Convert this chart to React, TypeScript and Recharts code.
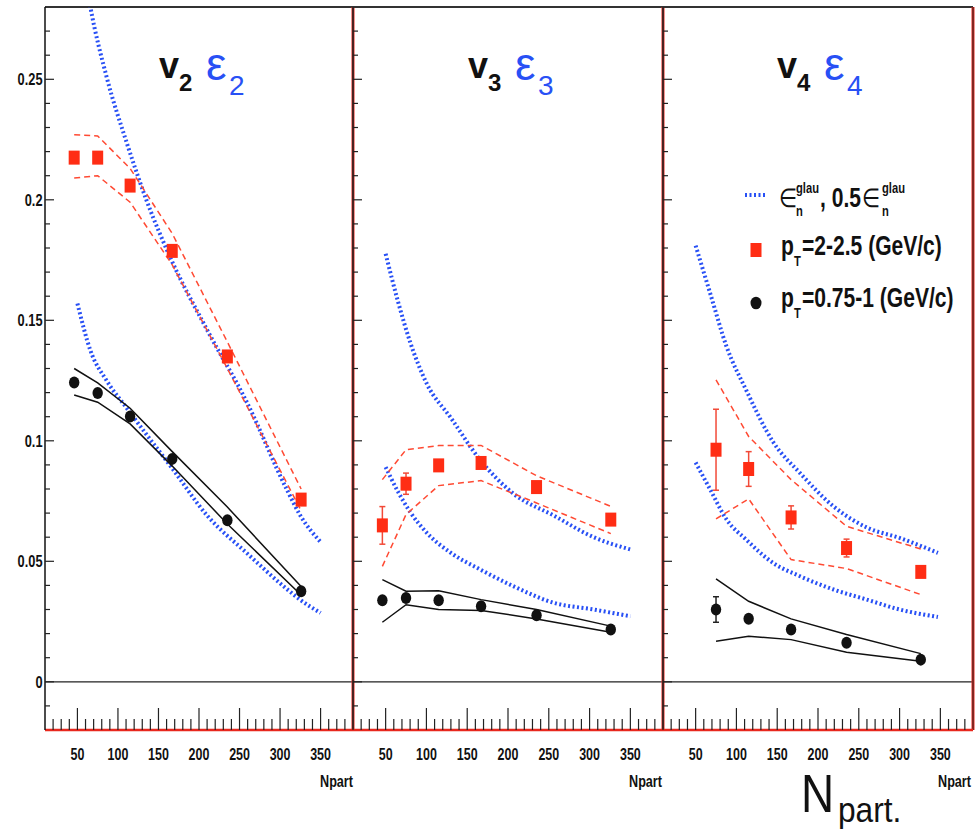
import React from "react";
import { ComposedChart, Line, Scatter, ErrorBar, XAxis, YAxis, ReferenceLine } from "recharts";

const FONT = '"Liberation Sans", Arial, Helvetica, sans-serif';
const RED = "#ff2d14";
const RED_BAND = "#ff4a33";
const BLUE = "#2850f5";
const BLACK = "#111";

// axes
const xTicks = [20, 30, 40, 50, 60, 70, 80, 90, 100, 110, 120, 130, 140, 150, 160, 170, 180, 190, 200, 210, 220, 230, 240, 250, 260, 270, 280, 290, 300, 310, 320, 330, 340, 350, 360, 370, 380];
const xMajor = [50, 100, 150, 200, 250, 300, 350];
const yTicks = [-0.01, 0, 0.01, 0.02, 0.03, 0.04, 0.05, 0.06, 0.07, 0.08, 0.09, 0.1, 0.11, 0.12, 0.13, 0.14, 0.15, 0.16, 0.17, 0.18, 0.19, 0.2, 0.21, 0.22, 0.23, 0.24, 0.25, 0.26, 0.27];
const yMajor = [0, 0.05, 0.1, 0.15, 0.2, 0.25];

// centrality bins (Npart)
const npart6 = [46, 75, 115, 167, 235, 326];
const npart5 = [75, 115, 167, 235, 326];

// v2 panel
const v2High = [0.2175, 0.2175, 0.2059, 0.1788, 0.135, 0.0756];
const v2HighUp = [0.227, 0.2265, 0.213, 0.186, 0.141, 0.08];
const v2HighLo = [0.209, 0.21, 0.199, 0.173, 0.13, 0.071];
const v2Low = [0.1242, 0.1198, 0.1101, 0.0925, 0.067, 0.0376];
const v2LowUp = [0.13, 0.124, 0.1135, 0.0955, 0.0725, 0.0395];
const v2LowLo = [0.119, 0.116, 0.107, 0.0895, 0.0655, 0.036];
const eps2N = [50, 66, 86, 111, 135, 166, 210, 259, 308, 325, 350];
const eps2 = [0.314, 0.28, 0.251, 0.2235, 0.2, 0.175, 0.146, 0.116, 0.08, 0.069, 0.058];
const eps2Half = [0.157, 0.1375, 0.125, 0.1135, 0.1027, 0.089, 0.069, 0.0534, 0.0386, 0.034, 0.0286];

// v3 panel
const v3High = [0.0649, 0.0822, 0.0898, 0.0908, 0.0808, 0.0673];
const v3HighErr = [0.0078, 0.0044, 0, 0, 0, 0];
const v3HighUp = [0.0839, 0.0963, 0.098, 0.0981, 0.0855, 0.0728];
const v3HighLo = [0.0479, 0.0694, 0.0814, 0.0835, 0.0742, 0.0615];
const v3Low = [0.0338, 0.0348, 0.0338, 0.0313, 0.0276, 0.0217];
const v3LowUp = [0.0424, 0.0376, 0.0378, 0.0341, 0.03, 0.0231];
const v3LowLo = [0.0247, 0.032, 0.03, 0.0296, 0.0261, 0.0206];
const eps3N = [50, 65, 80, 100, 130, 166, 207, 256, 305, 350];
const eps3 = [0.1776, 0.158, 0.141, 0.124, 0.1095, 0.092, 0.078, 0.069, 0.06, 0.0549];
const eps3Half = [0.0891, 0.079, 0.0705, 0.062, 0.0535, 0.0466, 0.0396, 0.0328, 0.03, 0.0272];

// v4 panel
const v4High = [0.0963, 0.0883, 0.0682, 0.0555, 0.0456];
const v4HighErr = [0.0168, 0.0072, 0.0048, 0.0037, 0];
const v4HighUp = [0.1253, 0.1018, 0.0839, 0.0645, 0.0551];
const v4HighLo = [0.0676, 0.0759, 0.0507, 0.047, 0.0362];
const v4Low = [0.03, 0.0262, 0.0217, 0.0162, 0.0092];
const v4LowErr = [0.0053, 0, 0, 0, 0];
const v4LowUp = [0.0427, 0.0334, 0.0261, 0.0196, 0.0117];
const v4LowLo = [0.0168, 0.0189, 0.0175, 0.0123, 0.0085];
const eps4N = [50, 68, 88, 112, 145, 178, 219, 260, 300, 347];
const eps4 = [0.181, 0.161, 0.139, 0.121, 0.0995, 0.0866, 0.0728, 0.064, 0.0597, 0.0535];
const eps4Half = [0.091, 0.0797, 0.0673, 0.059, 0.0493, 0.0438, 0.0383, 0.0341, 0.03, 0.0269];

const pts = (n: number[], v: number[], err?: number[]) =>
  n.map((x, i) => ({ n: x, v: v[i], err: err ? err[i] : 0 }));

const Txt = ({ x, y, size, sx = 1, bold = false, fill = BLACK, anchor = "start", children }: any) => (
  <g transform={`translate(${x} ${y}) scale(${sx} 1)`}>
    <text fontFamily={FONT} fontSize={size} fontWeight={bold ? "bold" : "normal"} fill={fill} textAnchor={anchor}>
      {children}
    </text>
  </g>
);

const XTick = (props: any) => {
  const { x, y, payload } = props;
  const major = xMajor.includes(payload.value);
  return (
    <g>
      <line x1={x} x2={x} y1={y} y2={y - (major ? 22 : 11)} stroke="#222" strokeWidth={1.2} />
      {major && (
        <Txt x={x} y={y + 30} size={16} sx={0.78} bold anchor="middle">
          {payload.value}
        </Txt>
      )}
    </g>
  );
};

const YTick = (props: any) => {
  const { x, y, payload, showLabel } = props;
  const major = yMajor.includes(payload.value);
  return (
    <g>
      <line x1={x} x2={x + (major ? 9 : 5)} y1={y} y2={y} stroke="#222" strokeWidth={1.2} />
      {showLabel && major && (
        <Txt x={x - 2.5} y={y + 5.7} size={16} sx={0.8} bold anchor="end">
          {String(payload.value)}
        </Txt>
      )}
    </g>
  );
};

const Square = (p: any) => <rect x={p.cx - 5.5} y={p.cy - 7} width={11} height={14} fill={RED} />;
const Dot = (p: any) => <ellipse cx={p.cx} cy={p.cy} rx={5.2} ry={6} fill={BLACK} />;

const band = (data: any[], color: string, dashed: boolean, key: string) => (
  <Line
    key={key}
    data={data}
    dataKey="v"
    type="linear"
    stroke={color}
    strokeWidth={1.5}
    strokeDasharray={dashed ? "6 4" : undefined}
    dot={false}
    activeDot={false}
    isAnimationActive={false}
  />
);

const eps = (data: any[], key: string) => (
  <Line
    key={key}
    data={data}
    dataKey="v"
    type="monotone"
    stroke={BLUE}
    strokeWidth={4}
    strokeDasharray="2 2.5"
    dot={false}
    activeDot={false}
    isAnimationActive={false}
  />
);

const Panel = ({ left, right, labels, border, children }: any) => (
  <div style={{ position: "absolute", left: 0, top: 0 }}>
    <ComposedChart width={980} height={829} margin={{ top: 7, bottom: 98, left: left - 1, right: 980 - right }}>
      <XAxis
        type="number"
        dataKey="n"
        domain={[10, 390]}
        allowDataOverflow
        ticks={xTicks}
        interval={0}
        height={1}
        tickSize={0}
        tickMargin={0}
        tickLine={false}
        axisLine={{ stroke: "#e8281e", strokeWidth: 2.5 }}
        tick={(p: any) => <XTick {...p} />}
      />
      <YAxis
        type="number"
        domain={[-0.02, 0.28]}
        allowDataOverflow
        ticks={yTicks}
        interval={0}
        width={1}
        tickSize={0}
        tickMargin={0}
        tickLine={false}
        axisLine={border}
        tick={(p: any) => <YTick {...p} showLabel={labels} />}
      />
      <ReferenceLine y={0} stroke="#222" strokeWidth={1.3} ifOverflow="visible" />
      <ReferenceLine y={0.28} stroke="#333" strokeWidth={2} ifOverflow="visible" />
      <ReferenceLine x={390} stroke="#e8281e" strokeWidth={3} ifOverflow="visible" />
      <ReferenceLine x={390} stroke="#222" strokeWidth={1} ifOverflow="visible" />
      {children}
    </ComposedChart>
  </div>
);

const Title = ({ dx, n }: any) => (
  <g>
    <Txt x={159 + dx} y={78} size={36} bold>v</Txt>
    <Txt x={179 + dx} y={91} size={24} bold>{n}</Txt>
    <Txt x={206 + dx} y={80} size={46} fill={BLUE}>ε</Txt>
    <Txt x={229 + dx} y={95} size={28} fill={BLUE}>{n}</Txt>
  </g>
);

export default function App() {
  const black = { stroke: "#111", strokeWidth: 1.5 };
  return (
    <div style={{ position: "absolute", left: 0, top: 0, width: 980, height: 829, background: "#fff" }}>
      <Panel left={45} right={353} labels border={black}>
        {eps(pts(eps2N, eps2), "e2")}
        {eps(pts(eps2N, eps2Half), "e2h")}
        {band(pts(npart6, v2HighUp), RED_BAND, true, "a")}
        {band(pts(npart6, v2HighLo), RED_BAND, true, "b")}
        {band(pts(npart6, v2LowUp), BLACK, false, "c")}
        {band(pts(npart6, v2LowLo), BLACK, false, "d")}
        <Scatter data={pts(npart6, v2High)} dataKey="v" shape={Square} isAnimationActive={false} />
        <Scatter data={pts(npart6, v2Low)} dataKey="v" shape={Dot} isAnimationActive={false} />
      </Panel>
      <Panel left={353} right={663} labels={false} border={{ stroke: "#222", strokeWidth: 1.2 }}>
        {eps(pts(eps3N, eps3), "e3")}
        {eps(pts(eps3N, eps3Half), "e3h")}
        {band(pts(npart6, v3HighUp), RED_BAND, true, "a")}
        {band(pts(npart6, v3HighLo), RED_BAND, true, "b")}
        {band(pts(npart6, v3LowUp), BLACK, false, "c")}
        {band(pts(npart6, v3LowLo), BLACK, false, "d")}
        <Scatter data={pts(npart6, v3High, v3HighErr)} dataKey="v" shape={Square} isAnimationActive={false}>
          <ErrorBar dataKey="err" direction="y" width={3} stroke="#f24a38" strokeWidth={1.5} isAnimationActive={false} />
        </Scatter>
        <Scatter data={pts(npart6, v3Low)} dataKey="v" shape={Dot} isAnimationActive={false} />
      </Panel>
      <Panel left={663} right={973} labels={false} border={{ stroke: "#222", strokeWidth: 1.2 }}>
        {eps(pts(eps4N, eps4), "e4")}
        {eps(pts(eps4N, eps4Half), "e4h")}
        {band(pts(npart5, v4HighUp), RED_BAND, true, "a")}
        {band(pts(npart5, v4HighLo), RED_BAND, true, "b")}
        {band(pts(npart5, v4LowUp), BLACK, false, "c")}
        {band(pts(npart5, v4LowLo), BLACK, false, "d")}
        <Scatter data={pts(npart5, v4High, v4HighErr)} dataKey="v" shape={Square} isAnimationActive={false}>
          <ErrorBar dataKey="err" direction="y" width={3} stroke="#f24a38" strokeWidth={1.5} isAnimationActive={false} />
        </Scatter>
        <Scatter data={pts(npart5, v4Low, v4LowErr)} dataKey="v" shape={Dot} isAnimationActive={false}>
          <ErrorBar dataKey="err" direction="y" width={3} stroke="#222" strokeWidth={1.5} isAnimationActive={false} />
        </Scatter>
      </Panel>
      <svg width={980} height={829} style={{ position: "absolute", left: 0, top: 0, pointerEvents: "none" }}>
        <Title dx={0} n="2" />
        <Title dx={309} n="3" />
        <Title dx={618} n="4" />

        <Txt x={353} y={787} size={16} sx={0.79} bold anchor="end">Npart</Txt>
        <Txt x={662} y={787} size={16} sx={0.79} bold anchor="end">Npart</Txt>
        <Txt x={971} y={787} size={16} sx={0.79} bold anchor="end">Npart</Txt>

        <Txt x={801} y={812} size={54} sx={0.85}>N</Txt>
        <Txt x={838} y={822} size={36} sx={0.88}>part.</Txt>

        {/* legend */}
        <line x1={745} x2={767} y1={195} y2={195} stroke={BLUE} strokeWidth={4} strokeDasharray="2 2.5" />
        <Txt x={779} y={207} size={26} sx={0.8}>∈</Txt>
        <Txt x={796} y={193} size={14} sx={0.8} bold>glau</Txt>
        <Txt x={796} y={216} size={14} sx={0.8} bold>n</Txt>
        <Txt x={820} y={207} size={27} sx={0.78} bold>, 0.5</Txt>
        <Txt x={862} y={207} size={26} sx={0.8}>∈</Txt>
        <Txt x={882} y={193} size={14} sx={0.8} bold>glau</Txt>
        <Txt x={882} y={216} size={14} sx={0.8} bold>n</Txt>

        <rect x={750.5} y={243} width={11} height={14} fill={RED} />
        <Txt x={781} y={255} size={27} sx={0.78} bold>p</Txt>
        <Txt x={794} y={266} size={14} sx={0.8} bold>T</Txt>
        <Txt x={802} y={255} size={27} sx={0.78} bold>=2-2.5 (GeV/c)</Txt>

        <ellipse cx={756} cy={303} rx={5.5} ry={6.3} fill={BLACK} />
        <Txt x={781} y={307} size={27} sx={0.78} bold>p</Txt>
        <Txt x={794} y={318} size={14} sx={0.8} bold>T</Txt>
        <Txt x={802} y={307} size={27} sx={0.78} bold>=0.75-1 (GeV/c)</Txt>
      </svg>
    </div>
  );
}
